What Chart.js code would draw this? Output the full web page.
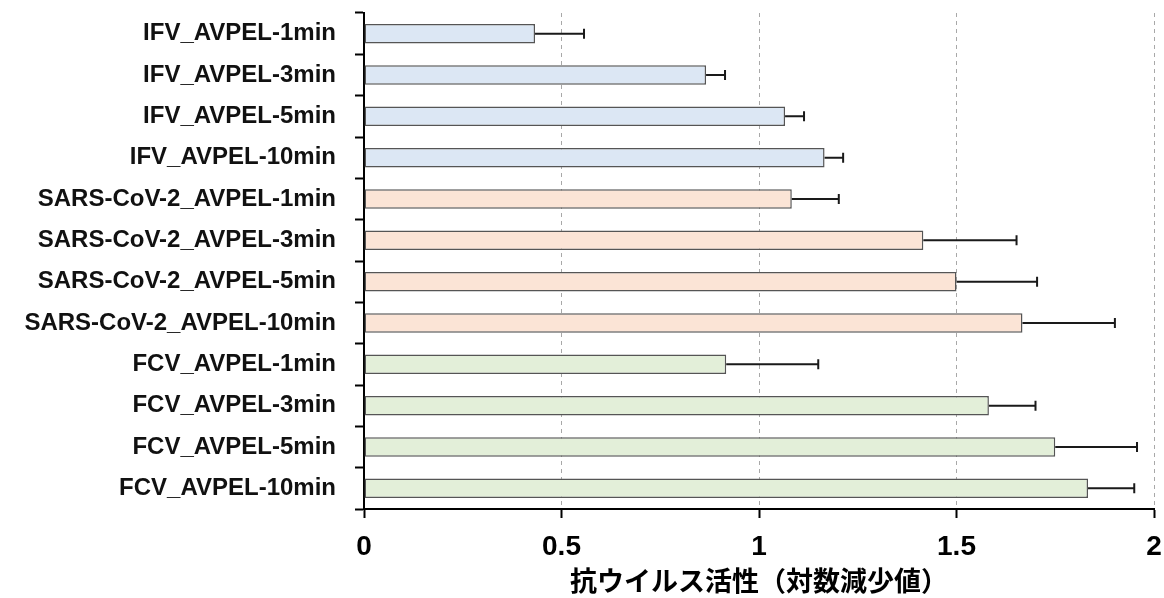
<!DOCTYPE html>
<html>
<head>
<meta charset="utf-8">
<script src="https://cdn.jsdelivr.net/npm/chart.js@4.4.1/dist/chart.umd.min.js"></script>
<style>
  html, body { margin: 0; padding: 0; background: #ffffff; }
  #c { display: block; }
</style>
</head>
<body>
<canvas id="c" width="1164" height="598"></canvas>
<script>
const categories = [
  'IFV_AVPEL-1min', 'IFV_AVPEL-3min', 'IFV_AVPEL-5min', 'IFV_AVPEL-10min',
  'SARS-CoV-2_AVPEL-1min', 'SARS-CoV-2_AVPEL-3min', 'SARS-CoV-2_AVPEL-5min', 'SARS-CoV-2_AVPEL-10min',
  'FCV_AVPEL-1min', 'FCV_AVPEL-3min', 'FCV_AVPEL-5min', 'FCV_AVPEL-10min'
];
const values = [0.433, 0.866, 1.066, 1.166, 1.083, 1.416, 1.5, 1.667, 0.917, 1.582, 1.75, 1.833];
const errors = [0.124, 0.048, 0.048, 0.047, 0.119, 0.236, 0.204, 0.234, 0.233, 0.118, 0.207, 0.117];
const groupColors = ['#dce7f4', '#dce7f4', '#dce7f4', '#dce7f4',
                     '#fbe4d6', '#fbe4d6', '#fbe4d6', '#fbe4d6',
                     '#e3efd9', '#e3efd9', '#e3efd9', '#e3efd9'];
const xTicks = [0, 0.5, 1, 1.5, 2];
const xTitle = '抗ウイルス活性（対数減少値）';

const errorBarPlugin = {
  id: 'errorBars',
  afterDatasetsDraw(chart) {
    const ctx = chart.ctx;
    const xs = chart.scales.x;
    const meta = chart.getDatasetMeta(0);
    ctx.save();
    ctx.strokeStyle = '#1a1a1a';
    ctx.lineWidth = 2;
    meta.data.forEach((bar, i) => {
      const x0 = bar.x;
      const x1 = xs.getPixelForValue(values[i] + errors[i]);
      const y = bar.y;
      ctx.beginPath();
      ctx.moveTo(x0, y);
      ctx.lineTo(x1, y);
      ctx.moveTo(x1, y - 5);
      ctx.lineTo(x1, y + 5);
      ctx.stroke();
    });
    ctx.restore();
  }
};

new Chart(document.getElementById('c'), {
  type: 'bar',
  data: {
    labels: categories,
    datasets: [{
      data: values,
      backgroundColor: groupColors,
      borderColor: '#555555',
      borderWidth: 1.5,
      borderSkipped: false,
      barPercentage: 0.47,
      categoryPercentage: 1.0
    }]
  },
  options: {
    responsive: false,
    animation: false,
    indexAxis: 'y',
    layout: { padding: { top: 13, right: 10, left: 0, bottom: 0 } },
    plugins: {
      legend: { display: false },
      tooltip: { enabled: false }
    },
    scales: {
      x: {
        type: 'linear',
        min: 0,
        max: 2,
        afterBuildTicks(scale) { scale.ticks = xTicks.map(v => ({ value: v })); },
        afterFit(scale) {
          scale.height = 89;
          scale.paddingLeft = 0;
          scale.paddingRight = 0;
        },
        grid: {
          display: true,
          drawOnChartArea: true,
          drawTicks: true,
          color: '#a8a8a8',
          lineWidth: 1,
          tickLength: 9,
          tickColor: '#000000',
          tickWidth: 2,
          tickBorderDash: []
        },
        border: { display: true, color: '#000000', width: 2, dash: [4, 4] },
        ticks: {
          color: '#000000',
          padding: 12,
          font: { family: "'Liberation Sans', Arial, sans-serif", size: 28, weight: 'bold' },
          callback: (v) => String(v)
        },
        title: {
          display: true,
          text: xTitle,
          color: '#000000',
          font: { family: "'Noto Sans CJK JP', sans-serif", size: 27, weight: 'bold', lineHeight: 1.2 },
          padding: { top: 0, bottom: 1 }
        }
      },
      y: {
        type: 'category',
        offset: true,
        afterFit(scale) {
          scale.width = 364;
          scale.paddingTop = 0;
          scale.paddingBottom = 0;
        },
        grid: {
          display: true,
          offset: true,
          drawOnChartArea: false,
          drawTicks: true,
          tickLength: 9,
          tickColor: '#000000',
          tickWidth: 2,
          color: '#000000'
        },
        border: { display: true, color: '#000000', width: 2 },
        ticks: {
          color: '#111111',
          padding: 19,
          autoSkip: false,
          font: { family: "'Liberation Sans', Arial, sans-serif", size: 24, weight: 'bold' }
        }
      }
    }
  },
  plugins: [errorBarPlugin]
});
</script>
</body>
</html>
